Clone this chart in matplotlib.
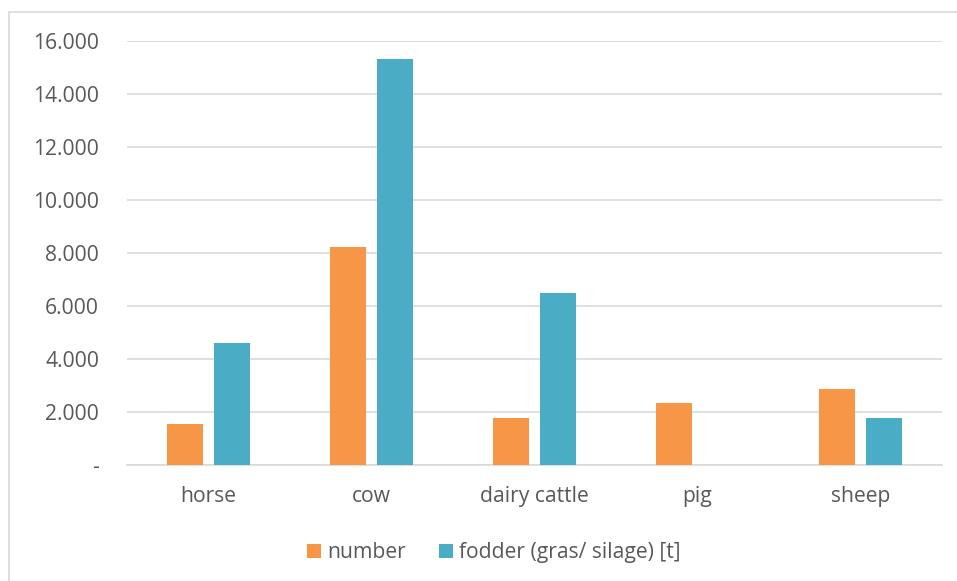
import numpy as np
import matplotlib
matplotlib.use("Agg")
import matplotlib.pyplot as plt
from matplotlib.patches import Rectangle
from matplotlib.ticker import FuncFormatter

plt.rcParams["font.family"] = ["Open Sans", "DejaVu Sans"]

animals = ["horse", "cow", "dairy cattle", "pig", "sheep"]
number = [1560, 8220, 1760, 2350, 2850]
fodder = [4610, 15340, 6480, 0, 1760]
yticks = [0, 2000, 4000, 6000, 8000, 10000, 12000, 14000, 16000]

text_col = "#595959"
grid_col = "#d9d9d9"
fs = 15.2

fig = plt.figure(figsize=(9.57, 5.81), dpi=100)
ax = fig.add_axes([0.1327, 0.1997, 0.8516, 0.7297])

# chart frame (runs off the right and bottom edges)
fig.patches.append(Rectangle((9 / 957, -0.05), 1.1, 1.05 - 12 / 581, transform=fig.transFigure,
                             fill=False, edgecolor=grid_col, linewidth=1.2))

x = np.arange(len(animals))
w = 0.22
ax.bar(x - 0.145, number, w, color="#F79646", label="number", zorder=3)
ax.bar(x + 0.145, fodder, w, color="#4BACC6", label="fodder (gras/ silage) [t]", zorder=3)

ax.set_xlim(-0.5, len(animals) - 0.5)
ax.set_ylim(0, 16000)
ax.set_yticks(yticks)
ax.yaxis.set_major_formatter(FuncFormatter(
    lambda v, p: "-" if v == 0 else f"{int(v):,}".replace(",", ".")))
ax.set_xticks(x)
ax.set_xticklabels(animals)
ax.tick_params(axis="both", length=0, labelsize=fs, colors=text_col)
ax.tick_params(axis="y", pad=20)
ax.tick_params(axis="x", pad=15)

ax.grid(axis="y", color=grid_col, linewidth=1.2, zorder=0)
for s in ["top", "right", "left"]:
    ax.spines[s].set_visible(False)
ax.spines["bottom"].set_color(grid_col)
ax.spines["bottom"].set_linewidth(1.2)

ax.legend(loc="upper center", bbox_to_anchor=(0.45, -0.138), ncol=2, frameon=False,
          fontsize=fs, labelcolor=text_col, handlelength=0.67, handleheight=0.67,
          handletextpad=0.3, columnspacing=1.55)

fig.savefig("out.png", dpi=100)
